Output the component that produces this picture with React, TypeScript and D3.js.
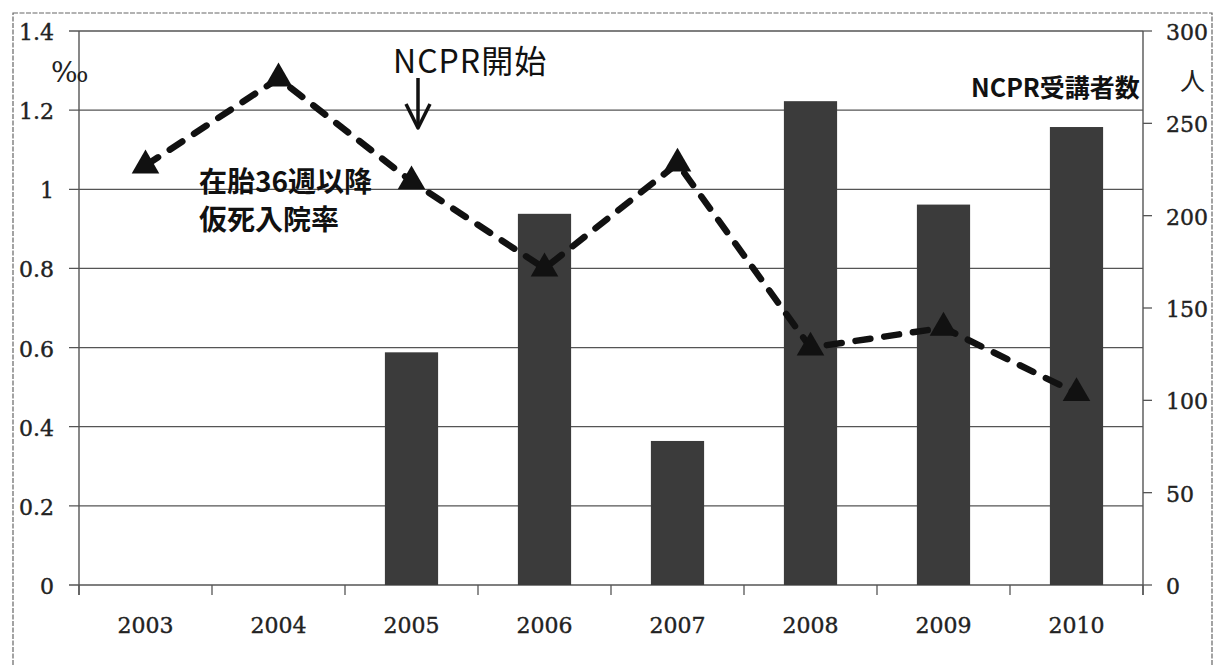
import React from "react";
import * as d3 from "d3";

// Years on the category axis
const years = ["2003", "2004", "2005", "2006", "2007", "2008", "2009", "2010"];
// NCPR trainees per year (right axis, persons); 0 = not yet started
const trainees = [0, 0, 126, 201, 78, 262, 206, 248];
// Asphyxia admission rate at ≥36 weeks gestation (left axis, ‰)
const asphyxiaRate = [1.06, 1.28, 1.02, 0.8, 1.065, 0.6, 0.65, 0.485];
// Axis tick values
const leftTicks = [0, 0.2, 0.4, 0.6, 0.8, 1.0, 1.2, 1.4];
const rightTicks = [0, 50, 100, 150, 200, 250, 300];

const W = 1215;
const H = 666;
const plot = { left: 79, right: 1143, top: 31, bottom: 585 };

const serif = "'DejaVu Serif', serif";
const cjk = "'Noto Sans CJK JP', 'Noto Sans', sans-serif";

export default function App() {
  const x = d3
    .scaleBand<string>()
    .domain(years)
    .range([plot.left, plot.right])
    .paddingInner(0.6)
    .paddingOuter(0.3);
  const step = x.step();
  const cx = (y: string) => (x(y) as number) + x.bandwidth() / 2;

  const yL = d3.scaleLinear().domain([0, 1.4]).range([plot.bottom, plot.top]);
  const yR = d3.scaleLinear().domain([0, 300]).range([plot.bottom, plot.top]);

  const line = d3
    .line<number>()
    .x((_, i) => cx(years[i]))
    .y((d) => yL(d));

  const tri = d3.symbol().type(d3.symbolTriangle).size(330)();

  const boundaries = d3.range(years.length + 1).map((i) => plot.left + i * step);

  const gridColor = "#555";
  const arrowX = 418;
  const numStyle = { stroke: "#222", strokeWidth: 0.4 };

  return (
    <svg
      width={W}
      height={H}
      style={{ position: "absolute", left: 0, top: 0, background: "#fff" }}
    >
      <rect x={0} y={0} width={W} height={H} fill="#fff" />
      {/* outer frame */}
      <rect
        x={13}
        y={13}
        width={1199}
        height={700}
        fill="none"
        stroke="#666"
        strokeWidth={1.2}
        strokeDasharray="5 1.5"
      />

      {/* horizontal gridlines with left ticks */}
      {leftTicks.map((t) => (
        <line
          key={"g" + t}
          x1={plot.left - 10}
          x2={plot.right}
          y1={yL(t)}
          y2={yL(t)}
          stroke={gridColor}
          strokeWidth={1.3}
        />
      ))}
      {/* right-axis ticks */}
      {rightTicks.map((t) => (
        <line
          key={"r" + t}
          x1={plot.right}
          x2={plot.right + 9}
          y1={yR(t)}
          y2={yR(t)}
          stroke={gridColor}
          strokeWidth={1.3}
        />
      ))}
      {/* category boundary ticks */}
      {boundaries.map((bx, i) => (
        <line
          key={"b" + i}
          x1={bx}
          x2={bx}
          y1={plot.bottom}
          y2={plot.bottom + 10}
          stroke={gridColor}
          strokeWidth={1.3}
        />
      ))}
      {/* axis lines */}
      <line x1={plot.left} x2={plot.left} y1={plot.top} y2={plot.bottom + 10} stroke={gridColor} strokeWidth={1.4} />
      <line x1={plot.right} x2={plot.right} y1={plot.top} y2={plot.bottom + 10} stroke={gridColor} strokeWidth={1.4} />

      {/* trainee bars */}
      {trainees.map((v, i) =>
        v > 0 ? (
          <rect
            key={"bar" + i}
            x={x(years[i])}
            y={yR(v)}
            width={x.bandwidth()}
            height={plot.bottom - yR(v)}
            fill="#3b3b3b"
          />
        ) : null
      )}

      {/* rate line */}
      <path
        d={line(asphyxiaRate) || ""}
        fill="none"
        stroke="#111"
        strokeWidth={6.5}
        strokeDasharray="15 14"
        strokeLinecap="round"
      />
      {asphyxiaRate.map((v, i) => (
        <path
          key={"m" + i}
          d={tri || ""}
          transform={`translate(${cx(years[i])},${yL(v)})`}
          fill="#111"
        />
      ))}

      {/* left tick labels */}
      {leftTicks.map((t) => (
        <text
          key={"lt" + t}
          x={54}
          y={yL(t) + 9}
          textAnchor="end"
          fontFamily={serif}
          fontSize={22}
          fill="#222"
          {...numStyle}
        >
          {t === 0 || t === 1 ? String(t) : t.toFixed(1)}
        </text>
      ))}
      {/* right tick labels */}
      {rightTicks.map((t) => (
        <text
          key={"rt" + t}
          x={1166}
          y={yR(t) + 9}
          fontFamily={serif}
          fontSize={22}
          fill="#222"
          {...numStyle}
        >
          {t}
        </text>
      ))}
      {/* year labels */}
      {years.map((y) => (
        <text
          key={"yl" + y}
          x={cx(y)}
          y={633}
          textAnchor="middle"
          fontFamily={serif}
          fontSize={22}
          fill="#222"
          {...numStyle}
        >
          {y}
        </text>
      ))}

      {/* unit labels */}
      <text x={51} y={82} fontFamily={serif} fontSize={28} fill="#222">
        ‰
      </text>
      <text x={1180} y={90} fontFamily={cjk} fontSize={25} fill="#222">
        人
      </text>
      <text x={971} y={97} fontFamily={cjk} fontSize={25} fontWeight="bold" fill="#111">
        NCPR受講者数
      </text>

      {/* series annotation */}
      <text fontFamily={cjk} fontSize={28} fontWeight="bold" fill="#111">
        <tspan x={199} y={192}>在胎36週以降</tspan>
        <tspan x={199} y={230}>仮死入院率</tspan>
      </text>

      {/* NCPR start marker */}
      <text x={393} y={73} fontFamily={cjk} fontSize={32} letterSpacing={1} fill="#111">
        NCPR開始
      </text>
      <line x1={arrowX} x2={arrowX} y1={78} y2={126} stroke="#111" strokeWidth={3.5} />
      <path
        d={`M${arrowX - 12},${104} L${arrowX},${128} L${arrowX + 12},${104}`}
        fill="none"
        stroke="#111"
        strokeWidth={3.5}
        strokeLinejoin="round"
      />
    </svg>
  );
}
